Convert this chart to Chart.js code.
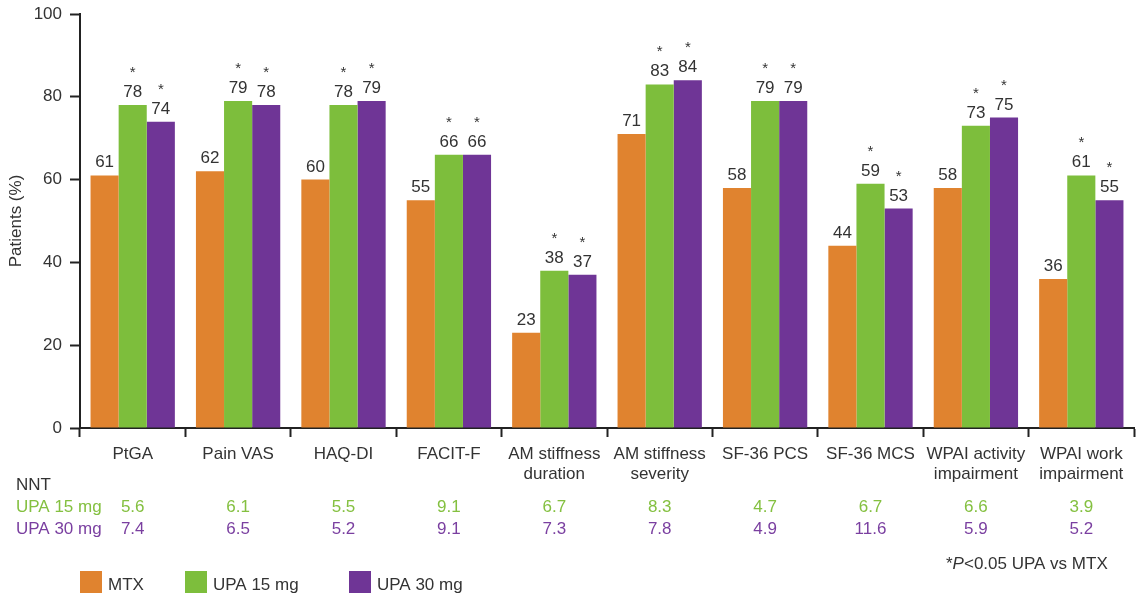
<!DOCTYPE html>
<html>
<head>
<meta charset="utf-8">
<script src="https://cdn.jsdelivr.net/npm/chart.js@4"></script>
<style>
  body { margin: 0; background: #fff; }
  #wrap { width: 1139px; height: 600px; }
</style>
</head>
<body>
<div id="wrap"><canvas id="BarChart" width="1139" height="600"></canvas></div>
<script>
// categories
var outcomes = [
  'PtGA', 'Pain VAS', 'HAQ-DI', 'FACIT-F', ['AM stiffness', 'duration'],
  ['AM stiffness', 'severity'], 'SF-36 PCS', 'SF-36 MCS',
  ['WPAI activity', 'impairment'], ['WPAI work', 'impairment']
];

// patients (%)
var mtx    = [61, 62, 60, 55, 23, 71, 58, 44, 58, 36];
var upa15  = [78, 79, 78, 66, 38, 83, 79, 59, 73, 61];
var upa30  = [74, 78, 79, 66, 37, 84, 79, 53, 75, 55];

// significance vs MTX
var sig15  = [true, true, true, true, true, true, true, true, true, true];
var sig30  = [true, true, true, true, true, true, true, true, true, true];

// NNT rows
var nnt15  = ['5.6', '6.1', '5.5', '9.1', '6.7', '8.3', '4.7', '6.7', '6.6', '3.9'];
var nnt30  = ['7.4', '6.5', '5.2', '9.1', '7.3', '7.8', '4.9', '11.6', '5.9', '5.2'];

var yTicks = [0, 20, 40, 60, 80, 100];

var ORANGE = '#E0832F';
var GREEN  = '#7DBE3C';
var PURPLE = '#6F3596';
var TEXT   = '#333333';
var AXIS   = '#222222';
var FONT   = '"Liberation Sans", Arial, sans-serif';

// value labels with asterisks above the UPA bars
var labelPlugin = {
  id: 'labels',
  afterDatasetsDraw: function(chart) {
    var ctx = chart.ctx;
    var sigs = [null, sig15, sig30];
    ctx.save();
    ctx.fillStyle = TEXT;
    ctx.textAlign = 'center';
    ctx.textBaseline = 'alphabetic';
    chart.data.datasets.forEach(function(ds, di) {
      var meta = chart.getDatasetMeta(di);
      meta.data.forEach(function(bar, i) {
        ctx.font = '17px ' + FONT;
        ctx.fillText(ds.data[i], bar.x, bar.y - 8);
        if (sigs[di] && sigs[di][i]) {
          ctx.font = '15px ' + FONT;
          ctx.fillText('*', bar.x, bar.y - 28);
        }
      });
    });
    ctx.restore();
  }
};

// NNT table, legend and footnote
var extrasPlugin = {
  id: 'extras',
  afterDraw: function(chart) {
    var ctx = chart.ctx;
    var x = chart.scales.x;
    ctx.save();
    ctx.textBaseline = 'middle';
    ctx.font = '17px ' + FONT;

    ctx.textAlign = 'left';
    ctx.fillStyle = TEXT;
    ctx.fillText('NNT', 16, 485);
    ctx.fillStyle = '#84C040';
    ctx.fillText('UPA 15 mg', 16, 507);
    ctx.fillStyle = '#7A3FA0';
    ctx.fillText('UPA 30 mg', 16, 529);

    ctx.textAlign = 'center';
    for (var i = 0; i < outcomes.length; i++) {
      var cx = x.getPixelForValue(i);
      ctx.fillStyle = '#84C040';
      ctx.fillText(nnt15[i], cx, 507);
      ctx.fillStyle = '#7A3FA0';
      ctx.fillText(nnt30[i], cx, 529);
    }

    // legend
    var items = [
      { label: 'MTX', color: ORANGE, x: 80 },
      { label: 'UPA 15 mg', color: GREEN, x: 185 },
      { label: 'UPA 30 mg', color: PURPLE, x: 349 }
    ];
    ctx.textAlign = 'left';
    items.forEach(function(it) {
      ctx.fillStyle = it.color;
      ctx.fillRect(it.x, 571, 22, 22);
      ctx.fillStyle = TEXT;
      ctx.fillText(it.label, it.x + 28, 585);
    });

    // footnote
    var fx = 946;
    ctx.fillStyle = TEXT;
    ctx.font = '17px ' + FONT;
    ctx.fillText('*', fx, 564);
    fx += ctx.measureText('*').width;
    ctx.font = 'italic 17px ' + FONT;
    ctx.fillText('P', fx, 564);
    fx += ctx.measureText('P').width;
    ctx.font = '17px ' + FONT;
    ctx.fillText('<0.05 UPA vs MTX', fx, 564);
    ctx.restore();
  }
};

var BarChart = new Chart(document.getElementById('BarChart').getContext('2d'), {
  type: 'bar',
  data: {
    labels: outcomes,
    datasets: [
      { label: 'MTX', data: mtx, backgroundColor: ORANGE, borderWidth: 0 },
      { label: 'UPA 15 mg', data: upa15, backgroundColor: GREEN, borderWidth: 0 },
      { label: 'UPA 30 mg', data: upa30, backgroundColor: PURPLE, borderWidth: 0 }
    ]
  },
  options: {
    responsive: false,
    animation: false,
    events: [],
    layout: { padding: { left: 0, top: 0, right: 5, bottom: 0 } },
    categoryPercentage: 0.8,
    barPercentage: 1.0,
    plugins: {
      legend: { display: false },
      tooltip: { enabled: false }
    },
    scales: {
      x: {
        afterFit: function(scale) { scale.height = 172; },
        grid: {
          display: true,
          offset: true,
          drawOnChartArea: false,
          drawTicks: true,
          tickLength: 9,
          tickWidth: 2,
          tickColor: AXIS
        },
        border: { display: true, color: AXIS, width: 2 },
        ticks: {
          color: TEXT,
          padding: 7,
          maxRotation: 0,
          autoSkip: false,
          font: { family: FONT, size: 17, lineHeight: 1.2 }
        }
      },
      y: {
        min: 0,
        max: 100,
        afterFit: function(scale) {
          scale.width = 80;
          scale.paddingTop = 14;
        },
        afterBuildTicks: function(scale) {
          scale.ticks = yTicks.map(function(v) { return { value: v }; });
        },
        grid: {
          display: true,
          drawOnChartArea: false,
          drawTicks: true,
          tickLength: 10,
          tickWidth: 2,
          tickColor: AXIS
        },
        border: { display: true, color: AXIS, width: 2 },
        ticks: {
          color: TEXT,
          padding: 8,
          font: { family: FONT, size: 17 }
        },
        title: {
          display: true,
          text: 'Patients (%)',
          color: TEXT,
          padding: { top: 6, bottom: 0 },
          font: { family: FONT, size: 17 }
        }
      }
    }
  },
  plugins: [labelPlugin, extrasPlugin]
});
</script>
</body>
</html>
